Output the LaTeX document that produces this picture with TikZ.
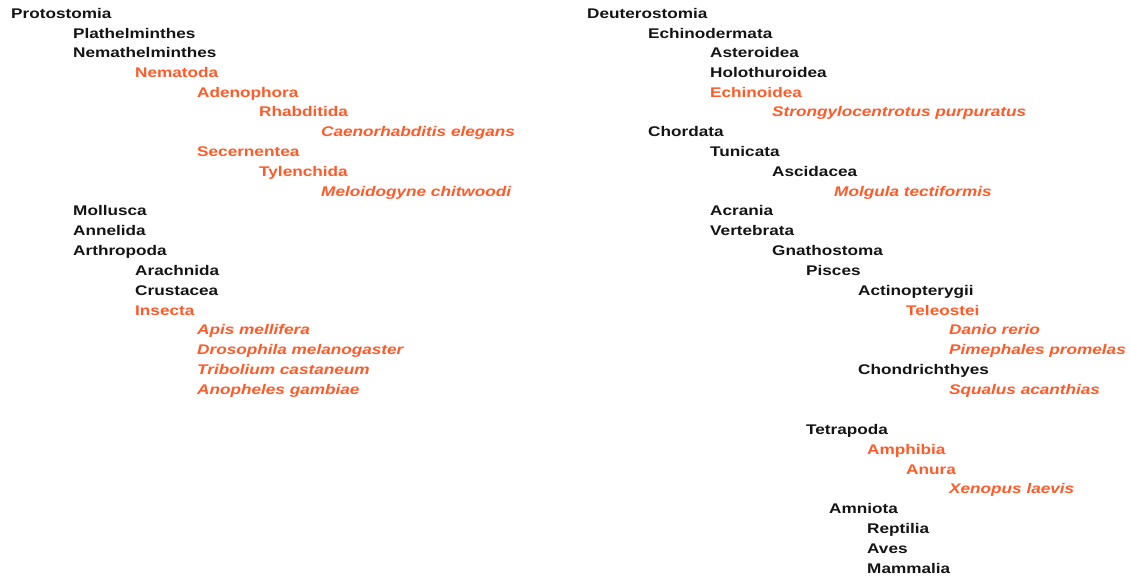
\documentclass[tikz,border=0pt]{standalone}
\usepackage{fontspec}
\setmainfont{Liberation Sans}[FakeStretch=1.227]
\definecolor{taxorange}{RGB}{255,90,40}
\definecolor{taxblack}{RGB}{20,20,20}
\tikzset{
  tx/.style={anchor=base west, inner sep=0pt, font=\fontsize{14}{16}\selectfont\bfseries},
  blk/.style={tx, text=taxblack},
  org/.style={tx, text=taxorange},
  spc/.style={tx, text=taxorange, font=\fontsize{14}{16}\selectfont\bfseries\itshape},
}
\begin{document}
\begin{tikzpicture}[x=1pt,y=-1pt]
\useasboundingbox (0,0) rectangle (1131,581);
% left column
\node[blk] (proto) at (11,18) {Protostomia};
\node[blk] (plat) at (73,38) {Plathelminthes};
\node[blk] (nemh) at (73,57) {Nemathelminthes};
\node[org] (nema) at (135,77) {Nematoda};
\node[org] (aden) at (197,97) {Adenophora};
\node[org] (rhab) at (259,116) {Rhabditida};
\node[spc] (cele) at (321,136) {Caenorhabditis elegans};
\node[org] (sece) at (197,156) {Secernentea};
\node[org] (tyle) at (259,176) {Tylenchida};
\node[spc] (mchi) at (321,196) {Meloidogyne chitwoodi};
\node[blk] (moll) at (73,215) {Mollusca};
\node[blk] (anne) at (73,235) {Annelida};
\node[blk] (arth) at (73,255) {Arthropoda};
\node[blk] (arac) at (135,275) {Arachnida};
\node[blk] (crus) at (135,295) {Crustacea};
\node[org] (inse) at (135,315) {Insecta};
\node[spc] (apis) at (197,334) {Apis mellifera};
\node[spc] (dros) at (197,354) {Drosophila melanogaster};
\node[spc] (trib) at (197,374) {Tribolium castaneum};
\node[spc] (anop) at (197,394) {Anopheles gambiae};
% right column
\node[blk] (deut) at (587,18) {Deuterostomia};
\node[blk] (echd) at (648,38) {Echinodermata};
\node[blk] (aste) at (710,57) {Asteroidea};
\node[blk] (holo) at (710,77) {Holothuroidea};
\node[org] (echi) at (710,97) {Echinoidea};
\node[spc] (spur) at (772,116) {Strongylocentrotus purpuratus};
\node[blk] (chor) at (648,136) {Chordata};
\node[blk] (tuni) at (710,156) {Tunicata};
\node[blk] (asci) at (772,176) {Ascidacea};
\node[spc] (molg) at (834,196) {Molgula tectiformis};
\node[blk] (acra) at (710,215) {Acrania};
\node[blk] (vert) at (710,235) {Vertebrata};
\node[blk] (gnat) at (772,255) {Gnathostoma};
\node[blk] (pisc) at (806,275) {Pisces};
\node[blk] (acti) at (858,295) {Actinopterygii};
\node[org] (tele) at (906,315) {Teleostei};
\node[spc] (dani) at (949,334) {Danio rerio};
\node[spc] (pime) at (949,354) {Pimephales promelas};
\node[blk] (chon) at (858,374) {Chondrichthyes};
\node[spc] (squa) at (949,394) {Squalus acanthias};
\node[blk] (tetr) at (806,434) {Tetrapoda};
\node[org] (amph) at (867,454) {Amphibia};
\node[org] (anur) at (906,474) {Anura};
\node[spc] (xeno) at (949,493) {Xenopus laevis};
\node[blk] (amni) at (829,513) {Amniota};
\node[blk] (rept) at (867,533) {Reptilia};
\node[blk] (aves) at (867,553) {Aves};
\node[blk] (mamm) at (867,573) {Mammalia};
\end{tikzpicture}
\end{document}
